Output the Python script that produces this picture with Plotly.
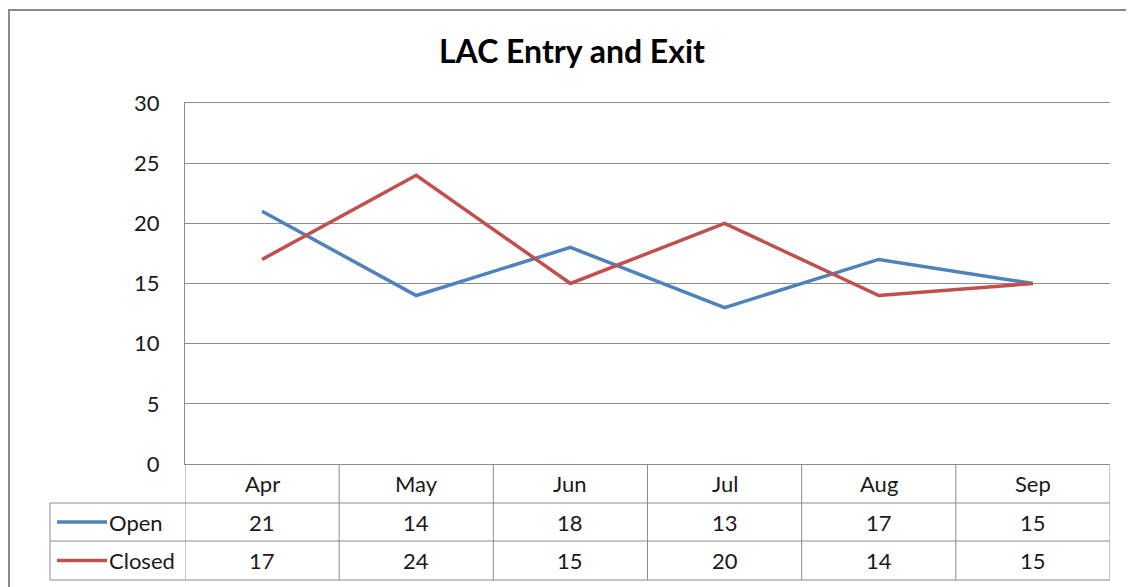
"""
LAC Entry and Exit — Excel-style line chart with a data table underneath
"""
import plotly.graph_objects as go

# Data
months = ["Apr", "May", "Jun", "Jul", "Aug", "Sep"]
open_vals = [21, 14, 18, 13, 17, 15]
closed_vals = [17, 24, 15, 20, 14, 15]

series = [("Open", open_vals, "#4F81BD"), ("Closed", closed_vals, "#C0504D")]

W, H = 1134, 587
OFF = 8  # page body margin, positions below are screen pixels
FONT = "Lato, Carlito, 'Open Sans', sans-serif"
GRID = "#8c8c8c"


def px_x(v):
    return (v - OFF) / W


def px_y(v):
    return (H - (v - OFF)) / H


# plot area in screen pixels
x_left, x_right = 185, 1110
y_top, y_bottom = 103, 464
row_edges = [464, 503, 541, 580]   # header / Open / Closed
label_left = 50

fig = go.Figure()
for name, vals, color in series:
    fig.add_trace(go.Scatter(x=months, y=vals, mode="lines", name=name,
                             line=dict(color=color, width=3.5)))

shapes = []
annotations = []

# outer chart border
shapes.append(dict(type="rect", xref="paper", yref="paper",
                   x0=px_x(9), x1=1.05, y0=-0.05, y1=px_y(10),
                   line=dict(color="#8a8a8a", width=2)))

# data table: horizontal rules (top one is the x axis line)
for r in row_edges[1:]:
    shapes.append(dict(type="line", xref="paper", yref="paper",
                       x0=px_x(label_left), x1=px_x(x_right),
                       y0=px_y(r), y1=px_y(r),
                       line=dict(color=GRID, width=1)))

# vertical rules, column borders on the category scale
for i in range(len(months) + 1):
    shapes.append(dict(type="line", xref="x", yref="paper",
                       x0=i - 0.5, x1=i - 0.5,
                       y0=px_y(row_edges[0]), y1=px_y(row_edges[-1]),
                       line=dict(color=GRID, width=1)))
shapes.append(dict(type="line", xref="paper", yref="paper",
                   x0=px_x(label_left), x1=px_x(label_left),
                   y0=px_y(row_edges[1]), y1=px_y(row_edges[-1]),
                   line=dict(color=GRID, width=1)))

cell_font = dict(family=FONT, size=22, color="#1a1a1a")

# header row
hy = px_y((row_edges[0] + row_edges[1]) / 2)
for m in months:
    annotations.append(dict(x=m, y=hy, xref="x", yref="paper", text=m,
                            showarrow=False, yanchor="middle", font=cell_font))

# value rows with legend keys
for k, (name, vals, color) in enumerate(series):
    cy = (row_edges[k + 1] + row_edges[k + 2]) / 2
    for m, v in zip(months, vals):
        annotations.append(dict(x=m, y=px_y(cy), xref="x", yref="paper",
                                text=str(v), showarrow=False,
                                yanchor="middle", font=cell_font))
    shapes.append(dict(type="line", xref="paper", yref="paper",
                       x0=px_x(57), x1=px_x(107), y0=px_y(cy), y1=px_y(cy),
                       line=dict(color=color, width=3.5)))
    annotations.append(dict(x=px_x(107), y=px_y(cy), xref="paper", yref="paper",
                            text=name, showarrow=False, xanchor="left",
                            yanchor="middle", font=cell_font))

fig.update_layout(
    width=W, height=H,
    margin=dict(l=0, r=0, t=0, b=0, autoexpand=False),
    paper_bgcolor="white", plot_bgcolor="white",
    showlegend=False,
    title=dict(text="<b>LAC Entry and Exit</b>", x=px_x(572), xanchor="center",
               y=px_y(52), yanchor="middle",
               font=dict(family=FONT, size=32, color="#000000")),
    font=dict(family=FONT, size=22, color="#1a1a1a"),
    xaxis=dict(domain=[px_x(x_left), px_x(x_right)], range=[-0.5, 5.5],
               showticklabels=False, showgrid=False, zeroline=False,
               showline=True, mirror=True, linecolor=GRID, linewidth=1,
               ticks="", automargin=False),
    yaxis=dict(domain=[px_y(y_bottom), px_y(y_top)], range=[0, 30], dtick=5,
               showgrid=True, gridcolor=GRID, gridwidth=1, zeroline=False,
               showline=True, linecolor=GRID, linewidth=1, automargin=False,
               ticks="", ticklabelstandoff=20,
               tickfont=dict(family=FONT, size=22, color="#1a1a1a")),
    shapes=shapes,
    annotations=annotations,
)

fig.write_html("out.html")
